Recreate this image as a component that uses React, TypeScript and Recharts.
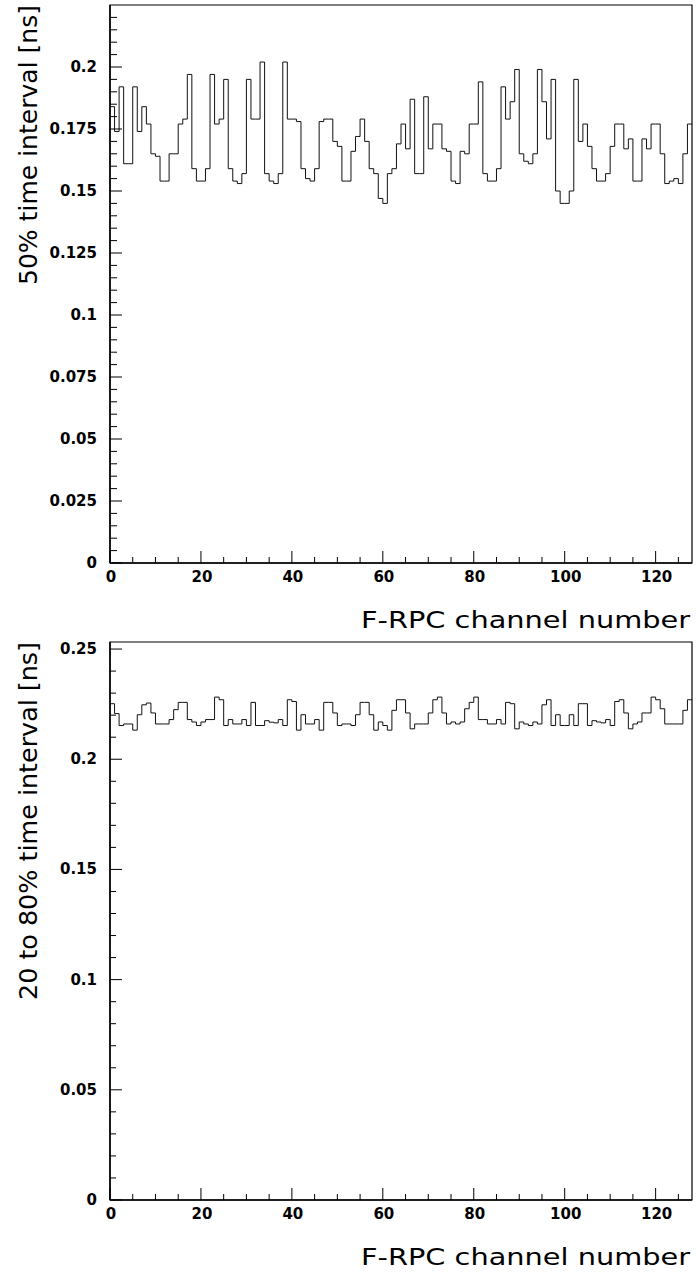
import React from 'react';
import { LineChart, Line, XAxis, YAxis, ReferenceArea } from 'recharts';

// 50% time interval per F-RPC channel (ns), channels 0..127
const halfWidth = [
  0.184, 0.174, 0.192, 0.161, 0.161, 0.192, 0.174, 0.184, 0.177, 0.165,
  0.164, 0.154, 0.154, 0.165, 0.165, 0.177, 0.179, 0.197, 0.159, 0.154,
  0.154, 0.159, 0.197, 0.177, 0.179, 0.195, 0.159, 0.154, 0.153, 0.157,
  0.195, 0.179, 0.179, 0.202, 0.157, 0.154, 0.153, 0.157, 0.202, 0.179,
  0.179, 0.178, 0.159, 0.155, 0.154, 0.159, 0.178, 0.179, 0.179, 0.170,
  0.168, 0.154, 0.154, 0.166, 0.172, 0.179, 0.170, 0.159, 0.157, 0.147,
  0.145, 0.157, 0.159, 0.169, 0.177, 0.167, 0.187, 0.157, 0.157, 0.188,
  0.167, 0.177, 0.177, 0.167, 0.166, 0.154, 0.153, 0.166, 0.165, 0.177,
  0.177, 0.194, 0.157, 0.154, 0.154, 0.159, 0.192, 0.179, 0.186, 0.199,
  0.165, 0.162, 0.161, 0.165, 0.199, 0.186, 0.171, 0.195, 0.150, 0.145,
  0.145, 0.150, 0.195, 0.170, 0.177, 0.168, 0.159, 0.154, 0.154, 0.157,
  0.168, 0.177, 0.177, 0.167, 0.171, 0.154, 0.154, 0.171, 0.167, 0.177,
  0.177, 0.165, 0.153, 0.154, 0.155, 0.153, 0.165, 0.177,
];

// 20 to 80% time interval per F-RPC channel (ns)
const riseTime = [
  0.2252, 0.2207, 0.2153, 0.2160, 0.2160, 0.2132, 0.2202, 0.2247, 0.2255, 0.2210,
  0.2160, 0.2160, 0.2160, 0.2180, 0.2225, 0.2258, 0.2258, 0.2180, 0.2169, 0.2153,
  0.2169, 0.2180, 0.2180, 0.2282, 0.2270, 0.2153, 0.2180, 0.2160, 0.2160, 0.2180,
  0.2153, 0.2258, 0.2153, 0.2153, 0.2175, 0.2168, 0.2165, 0.2180, 0.2153, 0.2270,
  0.2262, 0.2132, 0.2202, 0.2160, 0.2160, 0.2180, 0.2132, 0.2258, 0.2258, 0.2210,
  0.2153, 0.2160, 0.2160, 0.2153, 0.2202, 0.2258, 0.2258, 0.2202, 0.2132, 0.2169,
  0.2153, 0.2132, 0.2222, 0.2270, 0.2270, 0.2210, 0.2138, 0.2160, 0.2160, 0.2160,
  0.2210, 0.2270, 0.2282, 0.2210, 0.2160, 0.2169, 0.2160, 0.2169, 0.2229, 0.2258,
  0.2282, 0.2180, 0.2180, 0.2160, 0.2160, 0.2180, 0.2160, 0.2258, 0.2252, 0.2138,
  0.2169, 0.2160, 0.2153, 0.2169, 0.2160, 0.2247, 0.2270, 0.2153, 0.2202, 0.2153,
  0.2153, 0.2202, 0.2153, 0.2252, 0.2252, 0.2153, 0.2175, 0.2169, 0.2165, 0.2180,
  0.2153, 0.2262, 0.2270, 0.2210, 0.2138, 0.2160, 0.2169, 0.2210, 0.2210, 0.2282,
  0.2270, 0.2229, 0.2160, 0.2160, 0.2160, 0.2160, 0.2222, 0.2270,
];

const xMajorTicks = [0, 20, 40, 60, 80, 100, 120];
const topYMajorTicks = [0, 0.025, 0.05, 0.075, 0.1, 0.125, 0.15, 0.175, 0.2];
const bottomYMajorTicks = [0, 0.05, 0.1, 0.15, 0.2, 0.25];

const xTitle = 'F-RPC channel number';
const topYTitle = '50% time interval [ns]';
const bottomYTitle = '20 to 80% time interval [ns]';

const NBINS = 128;
const W = 697;
const H = 637;
const tickFamily = 'DejaVu Sans';
const titleFamily = 'DejaVu Sans';

const steps = (max: number, step: number) => {
  const out: number[] = [];
  for (let i = 0; i * step <= max + 1e-9; i++) out.push(+(i * step).toFixed(4));
  return out;
};
const isMajor = (v: number, majors: number[]) => majors.some(m => Math.abs(m - v) < 1e-6);
const fmt = (v: number) => String(parseFloat(v.toFixed(3)));

const toBins = (vals: number[]) => {
  const d = vals.map((v, i) => ({ ch: i, v }));
  d.push({ ch: NBINS, v: vals[vals.length - 1] });
  return d;
};

const xTicks = steps(125, 5);

function XTick(props: any) {
  const { x, y, payload } = props;
  const major = isMajor(payload.value, xMajorTicks);
  return (
    <g>
      <line x1={x} y1={y} x2={x} y2={y - (major ? 12 : 6)} stroke="#000" strokeWidth={1} />
      {major && (
        <text x={x + 1} y={y + 19} textAnchor="middle" fill="#000"
          fontFamily={tickFamily} fontWeight="bold" fontSize={15}>
          {payload.value}
        </text>
      )}
    </g>
  );
}

function makeYTick(majors: number[], minorLen: number) {
  return (props: any) => {
    const { x, y, payload } = props;
    const major = isMajor(payload.value, majors);
    return (
      <g key={`yt-${payload.value}`}>
        <line x1={x} y1={y} x2={x + (major ? 12 : minorLen)} y2={y} stroke="#000" strokeWidth={1} />
        {major && (
          <text x={x - 13} y={y + 5} textAnchor="end" fill="#000"
            fontFamily={tickFamily} fontWeight="bold" fontSize={15}>
            {fmt(payload.value)}
          </text>
        )}
      </g>
    );
  };
}

function Histo({ values, yMax, yTicks, yMajors, minorLen }: { values: number[]; yMax: number; yTicks: number[]; yMajors: number[]; minorLen: number }) {
  return (
    <LineChart width={W} height={H} data={toBins(values)} margin={{ top: 5, right: 5, bottom: 44, left: 0 }}>
      <XAxis
        dataKey="ch" type="number" domain={[0, NBINS]} ticks={xTicks} interval={0}
        tickSize={0} tickMargin={0} tick={<XTick />} height={30} allowDataOverflow
        axisLine={{ stroke: '#000', strokeWidth: 1.5 }}
      />
      <YAxis
        type="number" domain={[0, yMax]} ticks={yTicks} interval={0}
        tickSize={0} tickMargin={0} tick={makeYTick(yMajors, minorLen)} width={110} allowDataOverflow
        axisLine={{ stroke: '#000', strokeWidth: 1.5 }}
      />
      <ReferenceArea x1={0} x2={NBINS} y1={0} y2={yMax} fill="none" stroke="#000" strokeWidth={1.2} />
      <Line type="stepAfter" dataKey="v" stroke="#111" strokeWidth={1} dot={false} activeDot={false} isAnimationActive={false} />
    </LineChart>
  );
}

export default function App() {
  return (
    <div style={{ position: 'absolute', left: 0, top: 0, width: W, height: 1274, background: '#fff' }}>
      <div style={{ position: 'absolute', left: 0, top: 0 }}>
        <Histo values={halfWidth} yMax={0.225} yTicks={steps(0.22, 0.005)} yMajors={topYMajorTicks} minorLen={7} />
      </div>
      <div style={{ position: 'absolute', left: 0, top: H }}>
        <Histo values={riseTime} yMax={0.2532} yTicks={steps(0.25, 0.01)} yMajors={bottomYMajorTicks} minorLen={6} />
      </div>
      <svg width={W} height={1274} style={{ position: 'absolute', left: 0, top: 0, pointerEvents: 'none' }}>
        <text x={361} y={628} textLength={329} lengthAdjust="spacingAndGlyphs" fontFamily={titleFamily} fontSize={23} fill="#000">{xTitle}</text>
        <text x={361} y={1265} textLength={329} lengthAdjust="spacingAndGlyphs" fontFamily={titleFamily} fontSize={23} fill="#000">{xTitle}</text>
        <text transform="translate(37,285) rotate(-90)" textLength={280} lengthAdjust="spacingAndGlyphs" fontFamily={titleFamily} fontSize={24} fill="#000">{topYTitle}</text>
        <text transform="translate(37,1000) rotate(-90)" textLength={358} lengthAdjust="spacingAndGlyphs" fontFamily={titleFamily} fontSize={24} fill="#000">{bottomYTitle}</text>
      </svg>
    </div>
  );
}
